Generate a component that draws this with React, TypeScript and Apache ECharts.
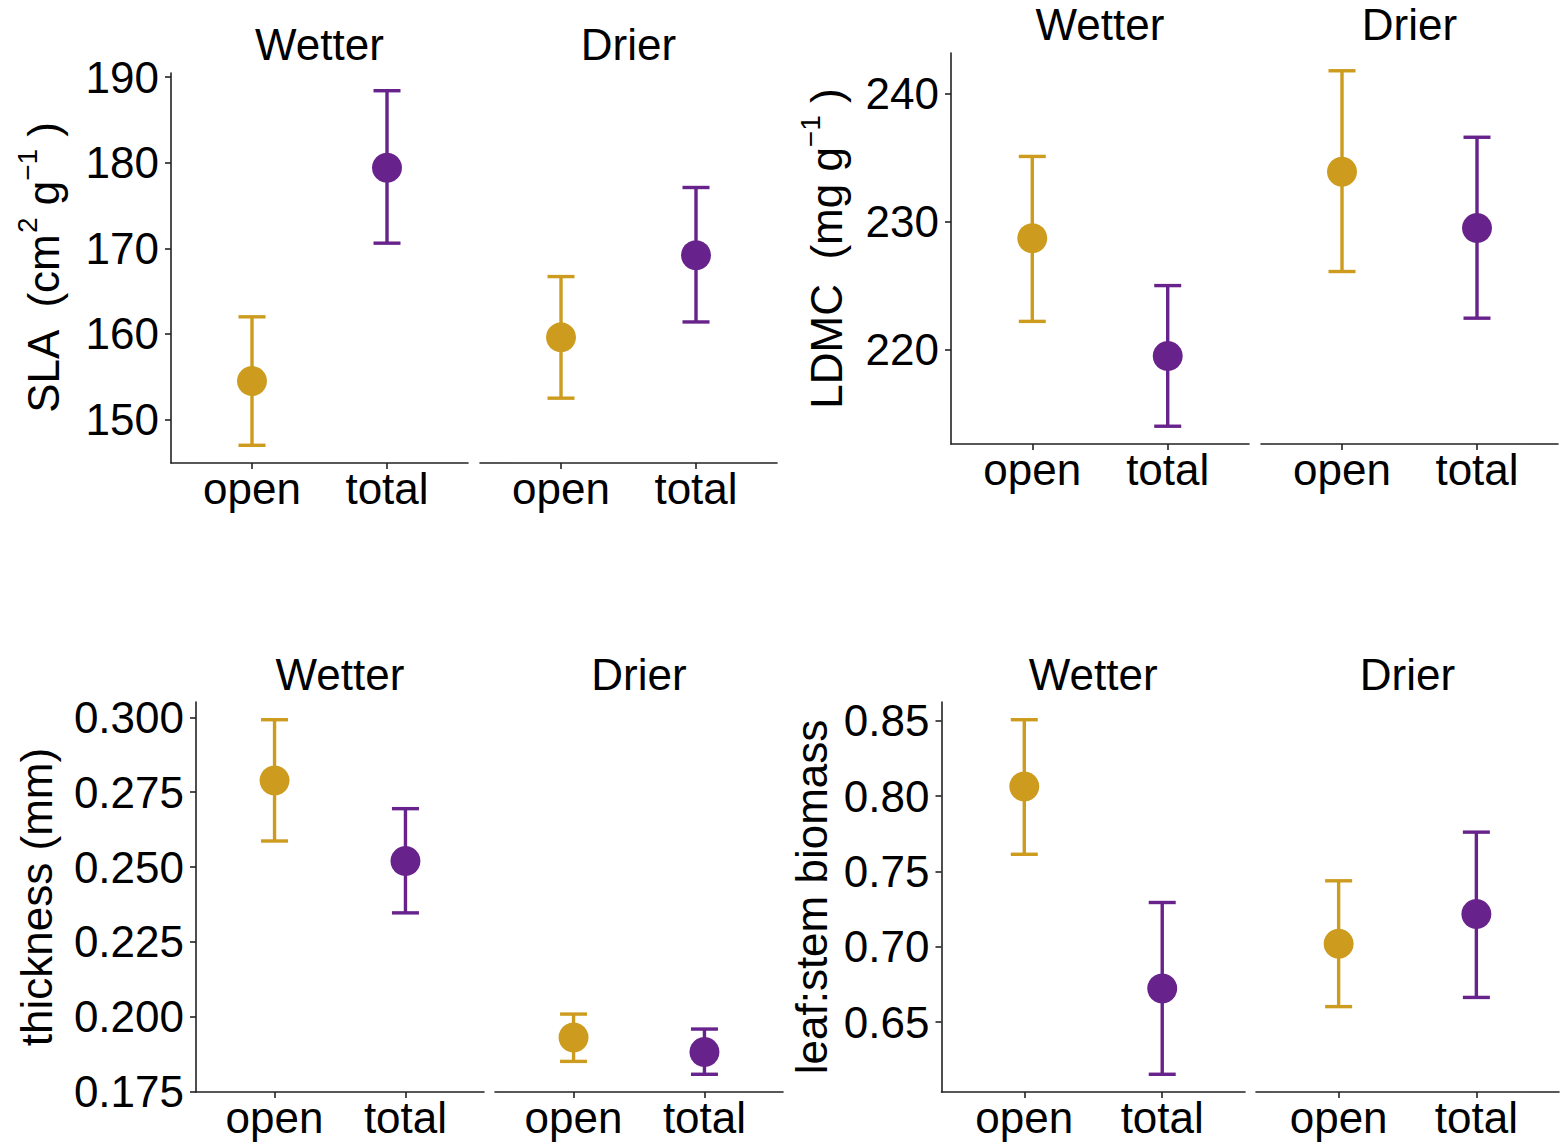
import React, { useEffect, useRef } from 'react';
import * as echarts from 'echarts';

// ---------- data ----------
const facets = ['Wetter', 'Drier'];
const treatments = ['open', 'total'];

// each: [facet][treatment]
const slaMean = [[154.5, 179.4], [159.6, 169.2]];
const slaLower = [[147.0, 170.6], [152.5, 161.4]];
const slaUpper = [[162.0, 188.4], [166.7, 177.1]];
const slaTicks = [150, 160, 170, 180, 190];

const ldmcMean = [[228.7, 219.5], [233.9, 229.5]];
const ldmcLower = [[222.2, 214.0], [226.1, 222.45]];
const ldmcUpper = [[235.1, 225.0], [241.8, 236.6]];
const ldmcTicks = [220, 230, 240];

const thickMean = [[0.2789, 0.252], [0.1931, 0.1882]];
const thickLower = [[0.2587, 0.2347], [0.1851, 0.1808]];
const thickUpper = [[0.2992, 0.2695], [0.2009, 0.1959]];
const thickTicks = [0.175, 0.2, 0.225, 0.25, 0.275, 0.3];

const lsMean = [[0.8064, 0.6724], [0.702, 0.7217]];
const lsLower = [[0.7614, 0.6154], [0.6603, 0.6664]];
const lsUpper = [[0.8507, 0.7294], [0.7438, 0.7761]];
const lsTicks = [0.65, 0.7, 0.75, 0.8, 0.85];

const colors = ['#CD9B1D', '#68228B'];
const FONT = 'Liberation Sans, Arial, Helvetica, sans-serif';

type Panel = {
  mean: number[][]; lower: number[][]; upper: number[][]; ticks: number[]; decimals: number;
  top: number; height: number; lefts: number[]; widths: number[];
  title: string; titleX: number; stripY: number;
};

const panels: Panel[] = [
  {
    mean: slaMean, lower: slaLower, upper: slaUpper, ticks: slaTicks, decimals: 0,
    top: 73, height: 390, lefts: [171, 480], widths: [297, 297],
    title: '{n|SLA  (cm}{s|2}{n| g}{s|\u22121}{n| )}', titleX: 39, stripY: 44,
  },
  {
    mean: ldmcMean, lower: ldmcLower, upper: ldmcUpper, ticks: ldmcTicks, decimals: 0,
    top: 53, height: 391, lefts: [951, 1261], widths: [298, 297],
    title: '{n|LDMC  (mg g}{s|\u22121}{n| )}', titleX: 822, stripY: 24,
  },
  {
    mean: thickMean, lower: thickLower, upper: thickUpper, ticks: thickTicks, decimals: 3,
    top: 702, height: 390, lefts: [196, 495], widths: [288, 288],
    title: '{n|thickness (mm)}', titleX: 32, stripY: 674,
  },
  {
    mean: lsMean, lower: lsLower, upper: lsUpper, ticks: lsTicks, decimals: 2,
    top: 702, height: 390, lefts: [941.5, 1256], widths: [303.5, 303],
    title: '{n|leaf:stem biomass}', titleX: 807, stripY: 674,
  },
];

function buildOption() {
  const grid: any[] = [];
  const xAxis: any[] = [];
  const yAxis: any[] = [];
  const series: any[] = [];
  const graphic: any[] = [];

  panels.forEach((p) => {
    const lows = p.lower.flat();
    const highs = p.upper.flat();
    const lo = Math.min(...lows);
    const hi = Math.max(...highs);
    const pad = (hi - lo) * 0.05;
    const yMin = lo - pad;
    const yMax = hi + pad;

    facets.forEach((f, fi) => {
      const gi = grid.length;
      grid.push({ left: p.lefts[fi], top: p.top, width: p.widths[fi], height: p.height, containLabel: false });
      xAxis.push({
        gridIndex: gi, type: 'value', min: 0.4, max: 2.6,
        axisLine: { show: true, onZero: false, lineStyle: { color: '#222', width: 1.6 } },
        axisTick: { show: true, length: 6, customValues: [1, 2], lineStyle: { color: '#222', width: 1.6 } },
        axisLabel: {
          customValues: [1, 2], margin: 3, color: '#000', fontSize: 44, fontFamily: FONT,
          formatter: (v: number) => treatments[Math.round(v) - 1],
        },
        splitLine: { show: false },
      });
      yAxis.push({
        gridIndex: gi, type: 'value', min: yMin, max: yMax, show: fi === 0,
        axisLine: { show: true, lineStyle: { color: '#222', width: 1.6 } },
        axisTick: { show: true, length: 6, customValues: p.ticks, lineStyle: { color: '#222', width: 1.6 } },
        axisLabel: {
          customValues: p.ticks, margin: 12, color: '#000', fontSize: 44, fontFamily: FONT,
          formatter: (v: number) => v.toFixed(p.decimals),
        },
        splitLine: { show: false },
      });
      const errData = treatments.map((t, ti) => [ti + 1, p.lower[fi][ti], p.upper[fi][ti]]);
      series.push({
        type: 'custom', xAxisIndex: gi, yAxisIndex: gi, z: 2, clip: false,
        encode: { x: 0, y: [1, 2] },
        data: errData,
        renderItem: (params: any, api: any) => {
          const x = api.value(0);
          const pLo = api.coord([x, api.value(1)]);
          const pHi = api.coord([x, api.value(2)]);
          const hw = 13.5;
          const style = { stroke: colors[params.dataIndex], lineWidth: 3.4, fill: null };
          return {
            type: 'group',
            children: [
              { type: 'line', shape: { x1: pLo[0], y1: pLo[1], x2: pHi[0], y2: pHi[1] }, style },
              { type: 'line', shape: { x1: pLo[0] - hw, y1: pLo[1], x2: pLo[0] + hw, y2: pLo[1] }, style },
              { type: 'line', shape: { x1: pHi[0] - hw, y1: pHi[1], x2: pHi[0] + hw, y2: pHi[1] }, style },
            ],
          };
        },
      });
      series.push({
        type: 'scatter', xAxisIndex: gi, yAxisIndex: gi, z: 3, symbol: 'circle', symbolSize: 30,
        itemStyle: { opacity: 1 },
        data: treatments.map((t, ti) => ({ value: [ti + 1, p.mean[fi][ti]], itemStyle: { color: colors[ti], opacity: 1 } })),
      });
      graphic.push({
        type: 'text', x: p.lefts[fi] + p.widths[fi] / 2, y: p.stripY,
        style: { text: f, fontSize: 44, fontFamily: FONT, fill: '#000', align: 'center', verticalAlign: 'middle' },
      });
    });

    graphic.push({
      type: 'text', x: p.titleX, y: p.top + p.height / 2, rotation: Math.PI / 2,
      style: {
        text: p.title, fill: '#000', align: 'center', verticalAlign: 'middle',
        rich: {
          n: { fontSize: 44, fontFamily: FONT, fill: '#000', verticalAlign: 'bottom', lineHeight: 52 },
          s: { fontSize: 28, fontFamily: FONT, fill: '#000', verticalAlign: 'top', lineHeight: 52 },
        },
      },
    });
  });

  return { animation: false, backgroundColor: '#fff', grid, xAxis, yAxis, series, graphic };
}

export default function App() {
  const ref = useRef<HTMLDivElement>(null);
  useEffect(() => {
    if (!ref.current) return;
    const chart = echarts.init(ref.current, undefined, { renderer: 'svg' });
    chart.setOption(buildOption() as any);
    return () => chart.dispose();
  }, []);
  return <div ref={ref} style={{ position: 'fixed', left: 0, top: 0, width: 1562, height: 1146, background: '#fff' }} />;
}
